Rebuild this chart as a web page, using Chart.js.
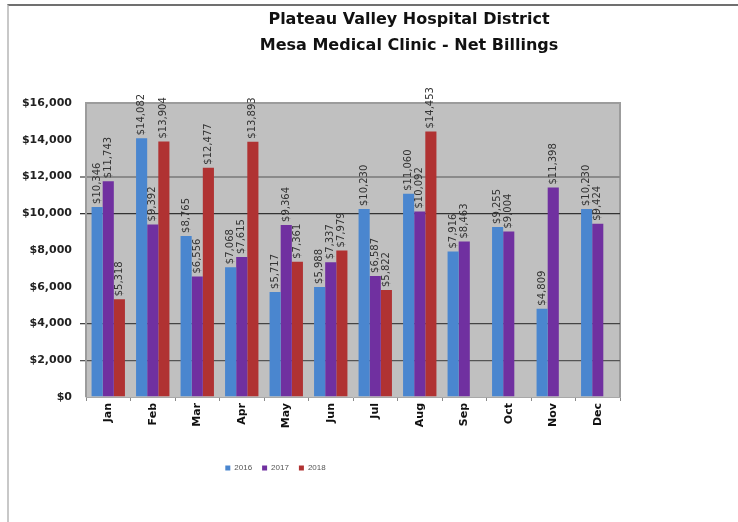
<!DOCTYPE html>
<html>
<head>
<meta charset="utf-8">
<script src="https://cdn.jsdelivr.net/npm/chart.js@4.4.1/dist/chart.umd.min.js"></script>
<style>
  body { margin: 0; background: #fff; overflow: hidden; }
  #wrap { position: relative; width: 738px; height: 522px; }
  #frame { position: absolute; left: 7px; top: 4px; width: 760px; height: 540px;
           border-top: 2px solid #707070; border-left: 2px solid #c8c8c8; pointer-events: none; }
</style>
</head>
<body>
<div id="wrap">
  <canvas id="grafico" width="738" height="522"></canvas>
  <div id="frame"></div>
</div>
<script>
const meses = ["Jan", "Feb", "Mar", "Apr", "May", "Jun", "Jul", "Aug", "Sep", "Oct", "Nov", "Dec"];
const anos = ["2016", "2017", "2018"];
const billings2016 = [10346, 14082, 8765, 7068, 5717, 5988, 10230, 11060, 7916, 9255, 4809, 10230];
const billings2017 = [11743, 9392, 6556, 7615, 9364, 7337, 6587, 10092, 8463, 9004, 11398, 9424];
const billings2018 = [5318, 13904, 12477, 13893, 7361, 7979, 5822, 14453, null, null, null, null];
const yMax = 16000;
const yStep = 2000;

const cores = ["#4a86cf", "#7030a0", "#b03232"];
// only these gridlines show in the picture
const corGrade = { 12000: "#8a8a8a", 10000: "#333333", 4000: "#444444", 2000: "#555555" };

const dinheiro = (v) => "$" + Number(v).toLocaleString("en-US");
const fonte = '"DejaVu Sans", Verdana, sans-serif';
const fonteLegenda = '"Liberation Sans", Arial, sans-serif';

const fundoPlot = {
  id: "fundoPlot",
  beforeDraw(chart) {
    const { ctx, chartArea: a } = chart;
    ctx.save();
    ctx.fillStyle = "#c0c0c0";
    ctx.fillRect(a.left, a.top, a.right - a.left, a.bottom - a.top);
    ctx.strokeStyle = "#9c9c9c";
    ctx.lineWidth = 2;
    ctx.beginPath();
    ctx.moveTo(a.left, a.top);
    ctx.lineTo(a.right, a.top);
    ctx.lineTo(a.right, a.bottom);
    ctx.stroke();
    ctx.restore();
  }
};

const posicoes = {
  id: "posicoes",
  afterLayout(chart) {
    chart.titleBlock.left = 80;
    chart.titleBlock.right = 738;
    chart.legend.left = 0;
    chart.legend.right = 551;
  }
};

const rotuloBarras = {
  id: "rotuloBarras",
  afterDatasetsDraw(chart) {
    const ctx = chart.ctx;
    ctx.save();
    ctx.font = "10px " + fonte;
    ctx.fillStyle = "#333";
    ctx.textAlign = "left";
    ctx.textBaseline = "middle";
    chart.data.datasets.forEach((ds, i) => {
      chart.getDatasetMeta(i).data.forEach((bar, j) => {
        const v = ds.data[j];
        if (v == null) return;
        ctx.save();
        ctx.translate(bar.x, bar.y - 3);
        ctx.rotate(-Math.PI / 2);
        ctx.fillText(dinheiro(v), 0, 0);
        ctx.restore();
      });
    });
    ctx.restore();
  }
};

const ctx = document.getElementById("grafico").getContext("2d");
const chart = new Chart(ctx, {
  type: "bar",
  data: {
    labels: meses,
    datasets: [
      { label: anos[0], data: billings2016, backgroundColor: cores[0] },
      { label: anos[1], data: billings2017, backgroundColor: cores[1] },
      { label: anos[2], data: billings2018, backgroundColor: cores[2] }
    ]
  },
  options: {
    responsive: false,
    animation: false,
    layout: { padding: { left: 10, right: 118, top: 0, bottom: 40 } },
    datasets: { bar: { categoryPercentage: 0.75, barPercentage: 1.0 } },
    plugins: {
      tooltip: { enabled: false },
      title: {
        display: true,
        text: ["Plateau Valley Hospital District", "Mesa Medical Clinic - Net Billings"],
        color: "#111",
        font: { family: fonte, size: 16, weight: "bold", lineHeight: 1.625 },
        padding: { top: 7, bottom: 44 }
      },
      legend: {
        display: true,
        position: "bottom",
        labels: {
          color: "#555",
          font: { family: fonteLegenda, size: 8 },
          boxWidth: 5,
          boxHeight: 5,
          padding: 10
        }
      }
    },
    scales: {
      x: {
        grid: { drawOnChartArea: false, color: "#8a8a8a", tickLength: 4 },
        border: { color: "#a8a8a8" },
        ticks: {
          minRotation: 90,
          maxRotation: 90,
          padding: 2,
          color: "#111",
          font: { family: fonte, size: 11, weight: "bold" }
        },
        afterFit: (s) => { s.height = 57; }
      },
      y: {
        min: 0,
        max: yMax,
        ticks: {
          stepSize: yStep,
          padding: 8,
          color: "#222",
          font: { family: fonte, size: 11, weight: "bold" },
          callback: (v) => dinheiro(v)
        },
        grid: {
          tickLength: 6,
          lineWidth: (c) => (c.tick && c.tick.value === 12000 ? 2 : 1.3),
          color: (c) => (c.tick && corGrade[c.tick.value]) || "rgba(0,0,0,0)",
          tickColor: (c) => (c.tick && corGrade[c.tick.value]) || "rgba(0,0,0,0)"
        },
        border: { color: "#9c9c9c", width: 2 },
        afterFit: (s) => { s.width = 76; }
      }
    }
  },
  plugins: [fundoPlot, posicoes, rotuloBarras]
});
</script>
</body>
</html>
